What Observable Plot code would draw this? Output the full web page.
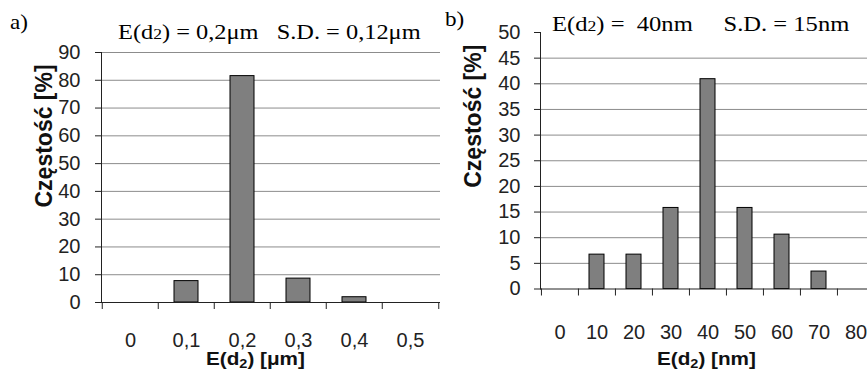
<!DOCTYPE html>
<html><head><meta charset="utf-8">
<script src="https://cdn.jsdelivr.net/npm/d3@7"></script>
<script src="https://cdn.jsdelivr.net/npm/@observablehq/plot@0.6"></script>
<style>
body{margin:0;background:#fff;}
#wrap{position:relative;width:867px;height:373px;overflow:hidden;background:#fff;}
.plot{position:absolute;top:0;}
.lbl{position:absolute;white-space:pre;line-height:1;transform-origin:0 0;}
.serif{font-family:"Liberation Serif","Times New Roman",serif;color:#000;}
.sans{font-family:"Liberation Sans",Arial,sans-serif;font-weight:bold;color:#111;}
.sub{font-size:0.72em;}
.sub2{font-size:0.7em;position:relative;top:0.25em;}
</style></head><body><div id="wrap"></div>
<script>
// ---- data, panel a ----
const catsA = ["0", "0,1", "0,2", "0,3", "0,4", "0,5"];
const valsA = [0, 7.7, 81.5, 8.6, 1.9, 0];
const ticksA = [0, 10, 20, 30, 40, 50, 60, 70, 80, 90];
// ---- data, panel b ----
const catsB = ["0", "10", "20", "30", "40", "50", "60", "70", "80"];
const valsB = [0, 6.7, 6.7, 15.8, 40.9, 15.8, 10.6, 3.4, 0];
const ticksB = [0, 5, 10, 15, 20, 25, 30, 35, 40, 45, 50];
const gridTicksB = [5, 10, 15, 20, 25, 30, 35, 40, 45];
const yTitle = "Częstość [%]";

const dataA = catsA.map((c, i) => ({cat: c, val: valsA[i]}));
const dataB = catsB.map((c, i) => ({cat: c, val: valsB[i]}));

const wrap = document.getElementById("wrap");
const axisColor = "#222";
const gridColor = "#8c8c8c";
const barFill = "#7f7f7f";

// panel a
const aLeft = 101, aRight = 440;
const stepA = (aRight - aLeft) / catsA.length;
const plotA = Plot.plot({
  width: 441, height: 373,
  marginLeft: aLeft, marginRight: 1, marginTop: 52, marginBottom: 71,
  style: {fontFamily: "'Liberation Sans', Arial, sans-serif", fontSize: "20px", color: "#222", background: "transparent", overflow: "visible"},
  x: {type: "band", domain: catsA, range: [aLeft, aRight], paddingInner: 0.57, paddingOuter: 0.285, label: null},
  y: {domain: [0, 90], label: null},
  marks: [
    Plot.gridY(ticksA.filter(t => t > 0), {stroke: gridColor, strokeOpacity: 1}),
    Plot.axisY(ticksA, {tickSize: 6, tickPadding: 15, fontSize: 20, label: null, stroke: axisColor}),
    Plot.barY(dataA.filter(d => d.val > 0), {x: "cat", y: "val", fill: barFill, stroke: "#000", strokeWidth: 1}),
    Plot.frame({anchor: "left", stroke: axisColor}),
    Plot.ruleY([0], {stroke: axisColor}),
    Plot.axisX(catsA, {tickSize: 7, dx: -stepA / 2, tickFormat: () => "", stroke: axisColor, label: null}),
    Plot.axisX([catsA[catsA.length - 1]], {tickSize: 7, dx: stepA / 2, tickFormat: () => "", stroke: axisColor, label: null}),
    Plot.axisX(catsA, {tickSize: 0, tickPadding: 30, fontSize: 20, label: null}),
    Plot.text([yTitle], {frameAnchor: "left", rotate: -90, dx: -57, dy: 30, fontSize: 23, fontWeight: "bold", fill: "#111"})
  ]
});
plotA.classList.add("plot");
plotA.style.left = "0px";
wrap.appendChild(plotA);

// panel b
const bOff = 440;
const bLeft = 100;
const stepB = 37.1;
const bRight = bLeft + stepB * catsB.length;
const plotB = Plot.plot({
  width: 427, height: 373,
  marginLeft: bLeft, marginRight: 0, marginTop: 32, marginBottom: 84.5,
  style: {fontFamily: "'Liberation Sans', Arial, sans-serif", fontSize: "20px", color: "#222", background: "transparent", overflow: "hidden"},
  x: {type: "band", domain: catsB, range: [bLeft, bRight], paddingInner: 0.6, paddingOuter: 0.3, label: null},
  y: {domain: [0, 50], label: null},
  marks: [
    Plot.gridY(gridTicksB, {stroke: gridColor, strokeOpacity: 1}),
    Plot.axisY(ticksB, {tickSize: 6, tickPadding: 14, fontSize: 20, label: null, stroke: axisColor}),
    Plot.barY(dataB.filter(d => d.val > 0), {x: "cat", y: "val", fill: barFill, stroke: "#000", strokeWidth: 1}),
    Plot.frame({anchor: "left", stroke: axisColor}),
    Plot.ruleY([0], {stroke: axisColor}),
    Plot.axisX(catsB, {tickSize: 7, dx: -stepB / 2, tickFormat: () => "", stroke: axisColor, label: null}),
    Plot.axisX(catsB, {tickSize: 0, tickPadding: 36, fontSize: 20, label: null}),
    Plot.text([yTitle], {frameAnchor: "left", rotate: -90, dx: -67, dy: 27, fontSize: 23, fontWeight: "bold", fill: "#111"})
  ]
});
plotB.classList.add("plot");
plotB.style.left = bOff + "px";
wrap.appendChild(plotB);

// text labels (HTML, above/below the svg content)
function label(html, cls, x, baseline, size, opts = {}) {
  const d = document.createElement("div");
  d.className = "lbl " + cls;
  d.innerHTML = html;
  d.style.fontSize = size + "px";
  const asc = cls === "serif" ? 0.8375 : 0.8465;
  d.style.top = (baseline - asc * size) + "px";
  wrap.appendChild(d);
  const sx = opts.scaleX || 1;
  if (opts.center) {
    const w = d.getBoundingClientRect().width * sx;
    d.style.left = (x - w / 2) + "px";
  } else {
    d.style.left = x + "px";
  }
  if (sx !== 1) d.style.transform = `scaleX(${sx})`;
  return d;
}
label("a)", "serif", 10, 30, 21, {scaleX: 1.1});
label('E(d<span class="sub">2</span>) = 0,2μm   S.D. = 0,12μm', "serif", 118, 40, 21, {scaleX: 1.16});
label("b)", "serif", 445, 27, 21, {scaleX: 1.1});
label('E(d<span class="sub">2</span>) =  40nm     S.D. = 15nm', "serif", 552, 32, 21, {scaleX: 1.17});
label('E(d<span class="sub2">2</span>) [μm]', "sans", 255, 365, 18, {center: true, scaleX: 1.15});
label('E(d<span class="sub2">2</span>) [nm]', "sans", 706, 365, 18, {center: true, scaleX: 1.15});
</script>
</body></html>
